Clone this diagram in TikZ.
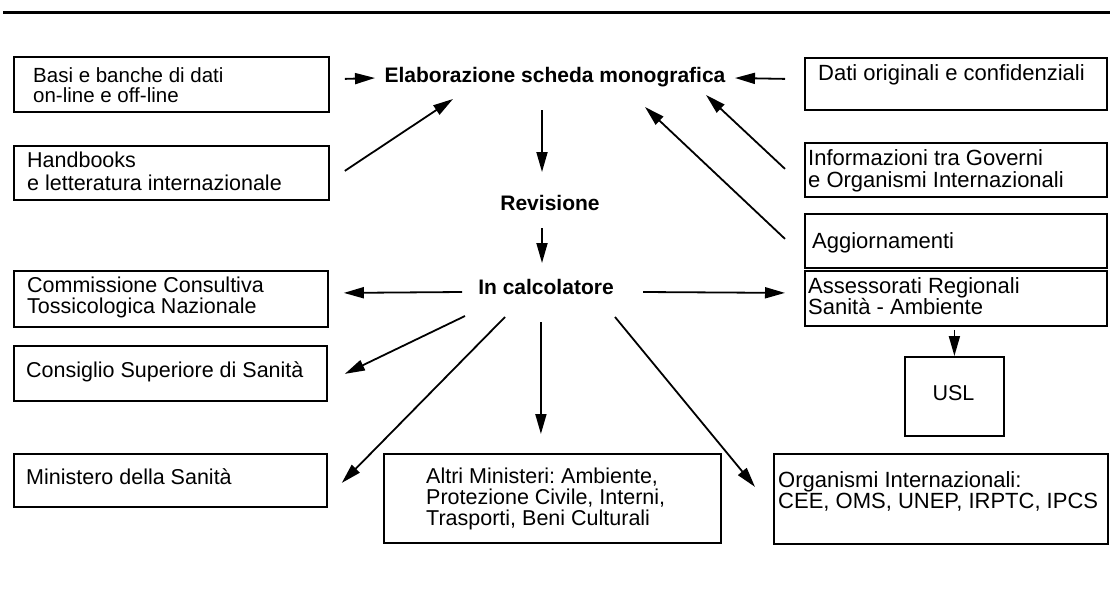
\documentclass[tikz,border=0pt]{standalone}
\usepackage{fontspec}
\setmainfont{Liberation Sans}
\usetikzlibrary{arrows.meta,calc}
\begin{document}
\frenchspacing
\begin{tikzpicture}[x=1pt,y=-1pt,
  box/.style={draw, line width=1.8pt, rectangle, inner sep=0pt, anchor=north west},
  txt/.style={inner sep=0pt, anchor=west, align=left, font=\fontsize{21.5}{21}\selectfont},
  rtxt/.style={txt, font=\fontsize{22}{21.5}\selectfont},
  lbl/.style={inner sep=0pt, font=\fontsize{21}{24}\selectfont\bfseries},
  arr/.style={line width=1.8pt, -{Triangle[length=20pt,width=11pt]}}]
\useasboundingbox (0,0) rectangle (1110,589);
% top rule
\draw[line width=3.5pt] (3,12.5) -- (1110,12.5);

% left boxes
\node[box, minimum width=315pt, minimum height=55pt] (basi) at (13,56) {};
\node[box, minimum width=315pt, minimum height=54pt] (hand) at (13,145) {};
\node[box, minimum width=314pt, minimum height=56pt] (comm) at (13,270) {};
\node[box, minimum width=313pt, minimum height=55pt] (cons) at (13,345) {};
\node[box, minimum width=313pt, minimum height=53pt] (mini) at (13,453) {};
% bottom boxes
\node[box, minimum width=337pt, minimum height=89pt] (altri) at (383,453) {};
\node[box, minimum width=334pt, minimum height=90pt] (org) at (773,453) {};
\node[box, minimum width=99pt, minimum height=79pt] (usl) at (904,356) {};
% right boxes
\node[box, minimum width=302pt, minimum height=52pt] (dati) at (804,57) {};
\node[box, minimum width=302pt, minimum height=54pt] (info) at (804,142) {};
\node[box, minimum width=302pt, minimum height=54pt] (aggi) at (804,213) {};
\node[box, minimum width=302pt, minimum height=55pt] (asse) at (804,270) {};

% box texts
\node[txt, font=\fontsize{20.5}{20}\selectfont] (tbasi) at (33,85) {Basi e banche di dati\\on-line e off-line};
\node[txt, font=\fontsize{21.5}{23}\selectfont] (thand) at (27,171.5) {Handbooks\\e letteratura internazionale};
\node[txt] (tcomm) at (27,297.5) {Commissione Consultiva\\Tossicologica Nazionale};
\node[txt] (tcons) at (26,372) {Consiglio Superiore di Sanità};
\node[txt] (tmini) at (26,477) {Ministero della Sanità};
\node[txt] (taltri) at (426,499) {Altri Ministeri: Ambiente,\\Protezione Civile, Interni,\\Trasporti, Beni Culturali};
\node[rtxt, font=\fontsize{22}{17}\selectfont] (torg) at (778,491) {Organismi Internazionali:\\CEE, OMS, UNEP, IRPTC, IPCS};
\node[txt, anchor=center] (tusl) at (953.5,393) {USL};
\node[rtxt] (tdati) at (818,75) {Dati originali e confidenziali};
\node[rtxt] (tinfo) at (808,171) {Informazioni tra Governi\\e Organismi Internazionali};
\node[rtxt] (taggi) at (812,243) {Aggiornamenti};
\node[rtxt] (tasse) at (808,296) {Assessorati Regionali\\Sanità - Ambiente};

% central labels
\node[lbl] (elab) at (555,77) {Elaborazione scheda monografica};
\node[lbl] (rev) at (550,203) {Revisione};
\node[lbl] (calc) at (546,287) {In calcolatore};

% connectors
\draw[arr] ($(basi.east)+(15,-5.5)$) -- ($(elab.center)+(-180,1)$);
\draw[arr] ($(hand.east)+(15,-2)$) -- ($(elab.center)+(-102,22)$);
\draw[arr] ($(dati.west)+(-19,-5)$) -- ($(elab.center)+(180,1)$);
\draw[arr] ($(info.west)+(-19,-1)$) -- ($(elab.center)+(151,18)$);
\draw[arr] ($(aggi.west)+(-19,-2)$) -- ($(elab.center)+(90,30)$);
\draw[arr] ($(elab.center)+(-13,33)$) -- ($(rev.center)+(-8,-31)$);
\draw[arr] ($(rev.center)+(-8,25)$) -- ($(calc.center)+(-4,-24)$);
\draw[arr] ($(calc.center)+(-84,5)$) -- ($(comm.east)+(15,-6)$);
\draw[arr] ($(calc.center)+(97,5)$) -- ($(asse.west)+(-19,-5.5)$);
\draw[arr] ($(calc.center)+(-81,29)$) -- ($(cons.east)+(17,0.5)$);
\draw[arr] ($(calc.center)+(-41,30)$) -- ($(mini.east)+(14,2.5)$);
\draw[arr] ($(calc.center)+(-5,35)$) -- ($(altri.north)+(-11.5,-19)$);
\draw[arr] ($(calc.center)+(69,30)$) -- ($(org.west)+(-18,-12)$);
\draw[arr, shorten <=3pt] (usl.north |- asse.south) -- (usl.north);
\end{tikzpicture}
\end{document}
